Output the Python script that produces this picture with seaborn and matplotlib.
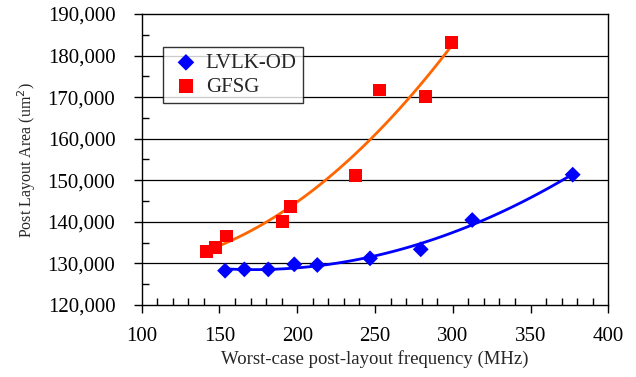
import matplotlib
matplotlib.use("Agg")
import matplotlib.pyplot as plt
import seaborn as sns
import pandas as pd
from matplotlib.ticker import MultipleLocator, FuncFormatter

lvlk_freq = [153.6, 166.0, 181.4, 198.1, 212.9, 246.8, 279.4, 312.5, 377.1]
lvlk_area = [128250, 128570, 128570, 129780, 129620, 131220, 133390, 140440, 151350]
gfsg_freq = [141.8, 147.3, 154.4, 190.4, 195.8, 237.3, 252.7, 282.3, 299.3]
gfsg_area = [132820, 133860, 136590, 140120, 143650, 151110, 171720, 170110, 183100]

df_l = pd.DataFrame({"freq": lvlk_freq, "area": lvlk_area})
df_g = pd.DataFrame({"freq": gfsg_freq, "area": gfsg_area})

sns.set_theme(style="white")
plt.rcParams["font.family"] = ["Liberation Serif", "DejaVu Serif"]

fig = plt.figure(figsize=(6.36, 3.77), dpi=100)
ax = fig.add_axes([0.2228, 0.191, 0.7337, 0.7719])

for y in range(130000, 190000, 10000):
    ax.axhline(y, color="black", lw=0.9, zorder=0)

sns.regplot(data=df_l, x="freq", y="area", order=2, ci=None, scatter=False,
            truncate=True, line_kws={"color": "#0000FF", "lw": 2}, ax=ax)
sns.regplot(data=df_g, x="freq", y="area", order=2, ci=None, scatter=False,
            truncate=True, line_kws={"color": "#FF6600", "lw": 2}, ax=ax)

sns.scatterplot(data=df_l, x="freq", y="area", marker="D", s=65, color="#0000FF",
                edgecolor="none", ax=ax, label="LVLK-OD", zorder=3)
sns.scatterplot(data=df_g, x="freq", y="area", marker="s", s=85, color="#FF0000",
                edgecolor="none", ax=ax, label="GFSG", zorder=3)

ax.set_xlim(100, 400)
ax.set_ylim(120000, 190000)
ax.xaxis.set_major_locator(MultipleLocator(50))
ax.xaxis.set_minor_locator(MultipleLocator(10))
ax.yaxis.set_major_locator(MultipleLocator(10000))
ax.yaxis.set_minor_locator(MultipleLocator(5000))
ax.yaxis.set_major_formatter(FuncFormatter(lambda v, p: f"{int(v):,}"))

ax.tick_params(axis="both", which="major", direction="out", length=6, width=1,
               labelsize=15, color="black", labelcolor="black",
               bottom=True, left=True)
ax.tick_params(axis="both", which="minor", direction="in", length=5, width=1,
               color="black", bottom=True, left=True)
ax.tick_params(axis="x", which="major", pad=10)
ax.tick_params(axis="y", which="major", pad=13)

for s in ax.spines.values():
    s.set_visible(True)
    s.set_color("black")
    s.set_linewidth(1)

ax.set_xlabel("Worst-case post-layout frequency (MHz)", fontsize=13.5, labelpad=3)
ax.set_ylabel("Post Layout Area (um$^2$)", fontsize=11.5, labelpad=7)

leg = ax.legend(loc="upper left", bbox_to_anchor=(0.0457, 0.8866), fontsize=15,
                frameon=True, fancybox=False, edgecolor="black",
                handletextpad=0.15, borderpad=0.3, labelspacing=0.2,
                handlelength=1.6, borderaxespad=0, markerscale=1.05)
leg.get_frame().set_linewidth(1)

fig.savefig("out.png", dpi=100)
